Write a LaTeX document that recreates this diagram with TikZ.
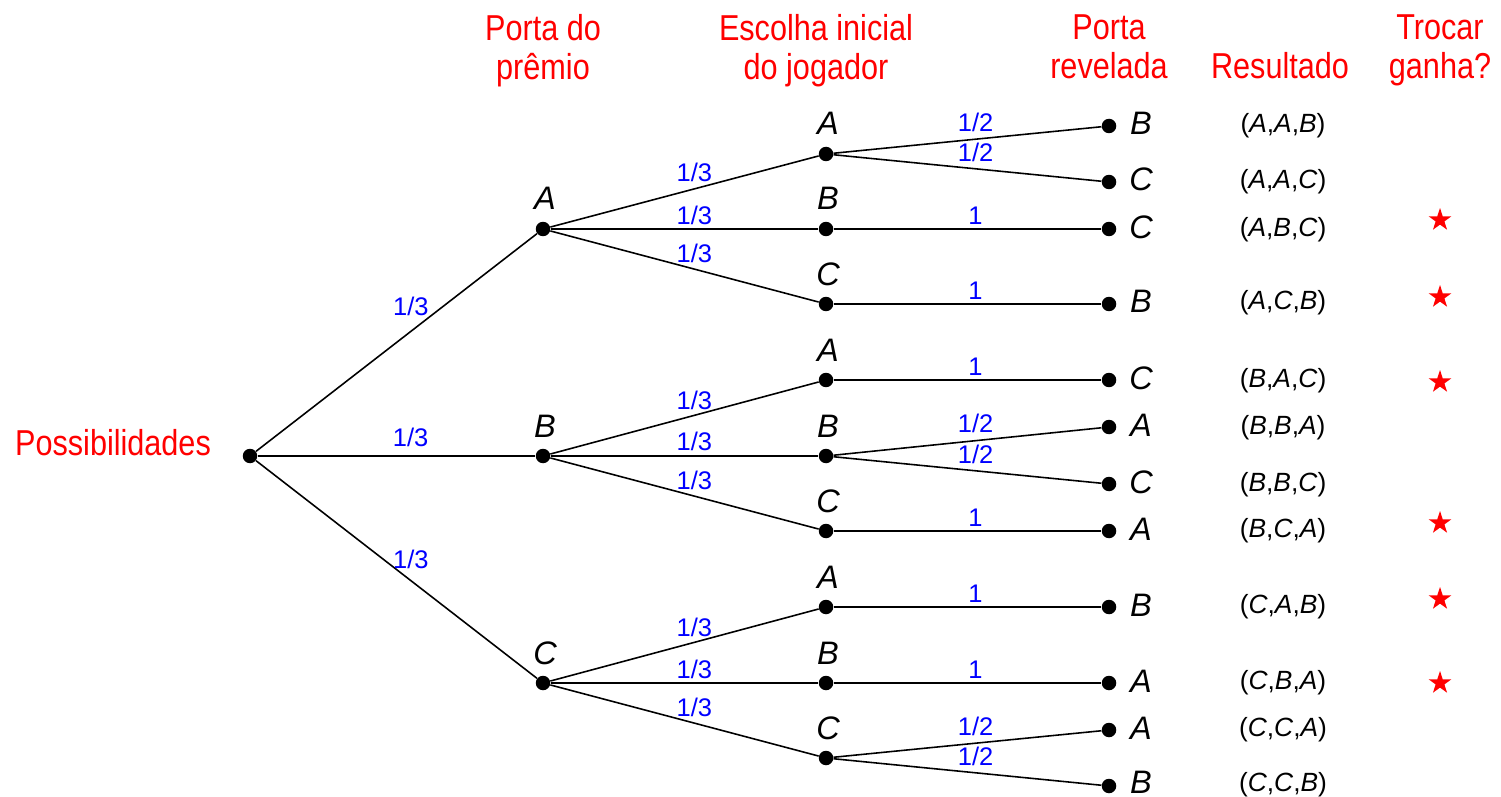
\documentclass[tikz,border=0pt]{standalone}
\usepackage{fontspec}
\setmainfont{Liberation Sans}
\newfontfamily\hdrfont{Liberation Sans}[FakeStretch=0.85]
\usetikzlibrary{shapes.geometric}
\definecolor{hdrred}{RGB}{255,0,0}
\definecolor{problue}{RGB}{0,0,255}
\begin{document}
\begin{tikzpicture}[x=0.02cm,y=-0.02cm,
 dot/.style={circle,fill=black,inner sep=0pt,minimum size=0.29cm},
 edge/.style={line width=0.9pt},
 hdr/.style={text=hdrred,font=\hdrfont\fontsize{20.5}{22.5}\selectfont,align=center,inner sep=0pt},
 prob/.style={text=problue,font=\fontsize{14.5}{16}\selectfont,inner sep=0pt},
 lvl/.style={font=\fontsize{18.5}{20}\selectfont\itshape,inner sep=0pt,anchor=base},
 res/.style={font=\fontsize{15}{18}\selectfont,inner sep=0pt,anchor=base},
 win/.style={star,star points=5,star point ratio=2.6,fill=red,draw=none,inner sep=0pt,minimum size=0.48cm}]
\useasboundingbox (0,0) rectangle (1501,797);

% headers
\node[hdr,anchor=north] (h1) at (543,14) {Porta do\\prêmio};
\node[hdr,anchor=north] (h2) at (816,14) {Escolha inicial\\do jogador};
\node[hdr,anchor=north] (h3) at (1109,14) {Porta\\revelada};
\node[hdr,anchor=base] (h4) at (1280,79) {Resultado};
\node[hdr,anchor=north] (h5) at (1440,14) {Trocar\\ganha?};
\node[hdr,anchor=base] (poss) at (113,455) {Possibilidades};

% dots
\node[dot] (r) at (250,456) {};
\node[dot] (pA) at (543,229) {};
\node[dot] (pB) at (543,456) {};
\node[dot] (pC) at (543,683) {};
\node[dot] (aA) at (826,154) {};
\node[dot] (aB) at (826,229) {};
\node[dot] (aC) at (826,304) {};
\node[dot] (bA) at (826,380) {};
\node[dot] (bB) at (826,456) {};
\node[dot] (bC) at (826,531) {};
\node[dot] (cA) at (826,607) {};
\node[dot] (cB) at (826,683) {};
\node[dot] (cC) at (826,758) {};
\node[dot] (aAB) at (1109,126) {};
\node[dot] (aAC) at (1109,182) {};
\node[dot] (aBC) at (1109,229) {};
\node[dot] (aCB) at (1109,304) {};
\node[dot] (bAC) at (1109,380) {};
\node[dot] (bBA) at (1109,427) {};
\node[dot] (bBC) at (1109,484) {};
\node[dot] (bCA) at (1109,531) {};
\node[dot] (cAB) at (1109,607) {};
\node[dot] (cBA) at (1109,683) {};
\node[dot] (cCA) at (1109,730) {};
\node[dot] (cCB) at (1109,786) {};

% level letters
\node[lvl] (tpA) at (545,210) {A};
\node[lvl] (tpB) at (545,437) {B};
\node[lvl] (tpC) at (545,664) {C};
\node[lvl] (taA) at (828,135) {A};
\node[lvl] (taB) at (828,210) {B};
\node[lvl] (taC) at (828,285) {C};
\node[lvl] (tbA) at (828,361) {A};
\node[lvl] (tbB) at (828,437) {B};
\node[lvl] (tbC) at (828,512) {C};
\node[lvl] (tcA) at (828,588) {A};
\node[lvl] (tcB) at (828,664) {B};
\node[lvl] (tcC) at (828,739) {C};

% leaf letters
\node[lvl] (laAB) at (1141,135) {B};
\node[lvl] (laAC) at (1141,191) {C};
\node[lvl] (laBC) at (1141,238) {C};
\node[lvl] (laCB) at (1141,313) {B};
\node[lvl] (lbAC) at (1141,389) {C};
\node[lvl] (lbBA) at (1141,436) {A};
\node[lvl] (lbBC) at (1141,493) {C};
\node[lvl] (lbCA) at (1141,540) {A};
\node[lvl] (lcAB) at (1141,616) {B};
\node[lvl] (lcBA) at (1141,692) {A};
\node[lvl] (lcCA) at (1141,739) {A};
\node[lvl] (lcCB) at (1141,793) {B};

% results
\node[res] (raAB) at (1283,133) {(\textit{A},\textit{A},\textit{B})};
\node[res] (raAC) at (1283,189) {(\textit{A},\textit{A},\textit{C})};
\node[res] (raBC) at (1283,236) {(\textit{A},\textit{B},\textit{C})};
\node[res] (raCB) at (1283,310) {(\textit{A},\textit{C},\textit{B})};
\node[res] (rbAC) at (1283,387) {(\textit{B},\textit{A},\textit{C})};
\node[res] (rbBA) at (1283,434) {(\textit{B},\textit{B},\textit{A})};
\node[res] (rbBC) at (1283,491) {(\textit{B},\textit{B},\textit{C})};
\node[res] (rbCA) at (1283,537) {(\textit{B},\textit{C},\textit{A})};
\node[res] (rcAB) at (1283,613) {(\textit{C},\textit{A},\textit{B})};
\node[res] (rcBA) at (1283,689) {(\textit{C},\textit{B},\textit{A})};
\node[res] (rcCA) at (1283,736) {(\textit{C},\textit{C},\textit{A})};
\node[res] (rcCB) at (1283,791) {(\textit{C},\textit{C},\textit{B})};

% stars
\node[win] (s1) at (1440,220) {};
\node[win] (s2) at (1440,297) {};
\node[win] (s3) at (1440,382) {};
\node[win] (s4) at (1440,523) {};
\node[win] (s5) at (1440,599) {};
\node[win] (s6) at (1440,683) {};

% edges root -> level 1
\draw[edge] (r) -- node[prob,pos=.551,yshift=.51cm]{1/3} (pA);
\draw[edge] (r) -- node[prob,pos=.551,yshift=.38cm]{1/3} (pB);
\draw[edge] (r) -- node[prob,pos=.551,yshift=.42cm]{1/3} (pC);

% level 1 -> level 2
\draw[edge] (pA) -- node[prob,pos=.537,yshift=.32cm]{1/3} (aA);
\draw[edge] (pA) -- node[prob,pos=.537,yshift=.27cm]{1/3} (aB);
\draw[edge] (pA) -- node[prob,pos=.537,yshift=.32cm]{1/3} (aC);
\draw[edge] (pB) -- node[prob,pos=.537,yshift=.30cm]{1/3} (bA);
\draw[edge] (pB) -- node[prob,pos=.537,yshift=.29cm]{1/3} (bB);
\draw[edge] (pB) -- node[prob,pos=.537,yshift=.32cm]{1/3} (bC);
\draw[edge] (pC) -- node[prob,pos=.537,yshift=.30cm]{1/3} (cA);
\draw[edge] (pC) -- node[prob,pos=.537,yshift=.27cm]{1/3} (cB);
\draw[edge] (pC) -- node[prob,pos=.537,yshift=.32cm]{1/3} (cC);

% level 2 -> leaves
\draw[edge] (aA) -- node[prob,pos=.53,yshift=.34cm]{1/2} (aAB);
\draw[edge] (aA) -- node[prob,pos=.53,yshift=.32cm]{1/2} (aAC);
\draw[edge] (aB) -- node[prob,pos=.53,yshift=.26cm]{1} (aBC);
\draw[edge] (aC) -- node[prob,pos=.53,yshift=.26cm]{1} (aCB);
\draw[edge] (bA) -- node[prob,pos=.53,yshift=.26cm]{1} (bAC);
\draw[edge] (bB) -- node[prob,pos=.53,yshift=.34cm]{1/2} (bBA);
\draw[edge] (bB) -- node[prob,pos=.53,yshift=.32cm]{1/2} (bBC);
\draw[edge] (bC) -- node[prob,pos=.53,yshift=.26cm]{1} (bCA);
\draw[edge] (cA) -- node[prob,pos=.53,yshift=.26cm]{1} (cAB);
\draw[edge] (cB) -- node[prob,pos=.53,yshift=.26cm]{1} (cBA);
\draw[edge] (cC) -- node[prob,pos=.53,yshift=.34cm]{1/2} (cCA);
\draw[edge] (cC) -- node[prob,pos=.53,yshift=.32cm]{1/2} (cCB);
\end{tikzpicture}
\end{document}
